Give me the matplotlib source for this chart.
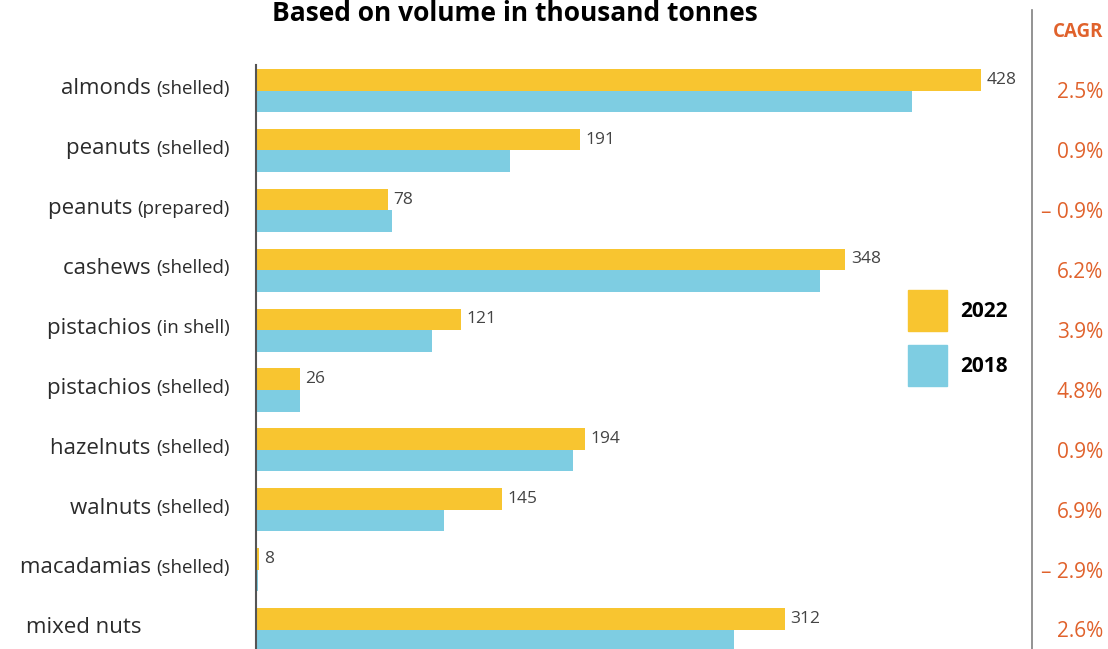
import matplotlib.pyplot as plt
from matplotlib.lines import Line2D
from matplotlib.patches import Patch
import numpy as np

plt.rcParams['font.family'] = ['Open Sans', 'DejaVu Sans']

# data
nuts = ['almonds', 'peanuts', 'peanuts', 'cashews', 'pistachios',
        'pistachios', 'hazelnuts', 'walnuts', 'macadamias', 'mixed nuts']
forms = ['(shelled)', '(shelled)', '(prepared)', '(shelled)', '(in shell)',
         '(shelled)', '(shelled)', '(shelled)', '(shelled)', '']
vol_2022 = [428, 191, 78, 348, 121, 26, 194, 145, 1.5, 312]
vol_2022_labels = ['428', '191', '78', '348', '121', '26', '194', '145', '8', '312']
vol_2018 = [387, 150, 80, 333, 104, 26, 187, 111, 1, 282]
cagr = ['2.5%', '0.9%', '\u2013 0.9%', '6.2%', '3.9%', '4.8%', '0.9%', '6.9%', '\u2013 2.9%', '2.6%']

c22 = '#F8C530'
c18 = '#7ECDE2'
orange = '#E0622C'
txt = '#2b2b2b'

W, H = 1108, 649
fig = plt.figure(figsize=(W / 100, H / 100), dpi=100)

row_px = 59.9
ax_left, ax_right = 256, 1032
ax_top = 65
first_center = 90.5
ax = fig.add_axes([ax_left / W, 0, (ax_right - ax_left) / W, (H - ax_top) / H])

y = np.arange(len(nuts))
bh = 0.36
ax.barh(y - bh / 2, vol_2022, height=bh, color=c22, label='2022')
ax.barh(y + bh / 2, vol_2018, height=bh, color=c18, label='2018')

scale = (981 - 256) / 428.0
ax.set_xlim(0, (ax_right - ax_left) / scale)
ax.set_ylim((H - first_center) / row_px, (ax_top - first_center) / row_px)

for s in ['top', 'right', 'bottom']:
    ax.spines[s].set_visible(False)
ax.spines['left'].set_color('#555555')
ax.spines['left'].set_linewidth(1.5)
ax.set_xticks([])
ax.set_yticks([])

# value labels on 2022 bars
for i, (v, lab) in enumerate(zip(vol_2022, vol_2022_labels)):
    ax.annotate(lab, (v, i - bh / 2), xytext=(4, 0), textcoords='offset points',
                va='center', ha='left', fontsize=12.5, color='#444444')

# category labels: name + smaller parenthetical
fig.canvas.draw()
renderer = fig.canvas.get_renderer()
for i, (n, f) in enumerate(zip(nuts, forms)):
    yy = i - 0.03
    if f:
        t = ax.annotate(f, (0, yy), xytext=(-26, 0), textcoords='offset pixels',
                        ha='right', va='center', fontsize=13.5, color=txt)
        w = t.get_window_extent(renderer).width
        ax.annotate(n + ' ', (0, yy), xytext=(-26 - w, 0), textcoords='offset pixels',
                    ha='right', va='center', fontsize=16, color=txt)
    else:
        ax.annotate(n, (0, yy), xytext=(-114, 0), textcoords='offset pixels',
                    ha='right', va='center', fontsize=16, color=txt)

# CAGR column
for i, c in enumerate(cagr):
    ax.annotate(c, (1, i + 0.04), xycoords=('axes fraction', 'data'),
                xytext=(71, 0), textcoords='offset pixels',
                ha='right', va='center', fontsize=15, color=orange)
fig.text(1103 / W, 1 - 32 / H, 'CAGR', ha='right', va='center',
         fontsize=13.5, fontweight='bold', color=orange)
fig.add_artist(Line2D([ax_right / W, ax_right / W], [0, 1 - 10 / H],
                      transform=fig.transFigure, color='#808080', lw=1.2))

# title
fig.text(515 / W, 1 - 21 / H, 'Based on volume in thousand tonnes',
         ha='center', va='baseline', fontsize=19, fontweight='bold', color='black')

# legend
handles = [Patch(color=c22, label='2022'), Patch(color=c18, label='2018')]
leg = fig.legend(handles=handles, loc='upper left',
                 bbox_to_anchor=(889 / W, 1 - 271 / H), frameon=False,
                 fontsize=15, handlelength=1.9, handleheight=2.65,
                 labelspacing=0.7, handletextpad=0.6)
for t in leg.get_texts():
    t.set_fontweight('bold')

fig.savefig('out.png', dpi=100)
